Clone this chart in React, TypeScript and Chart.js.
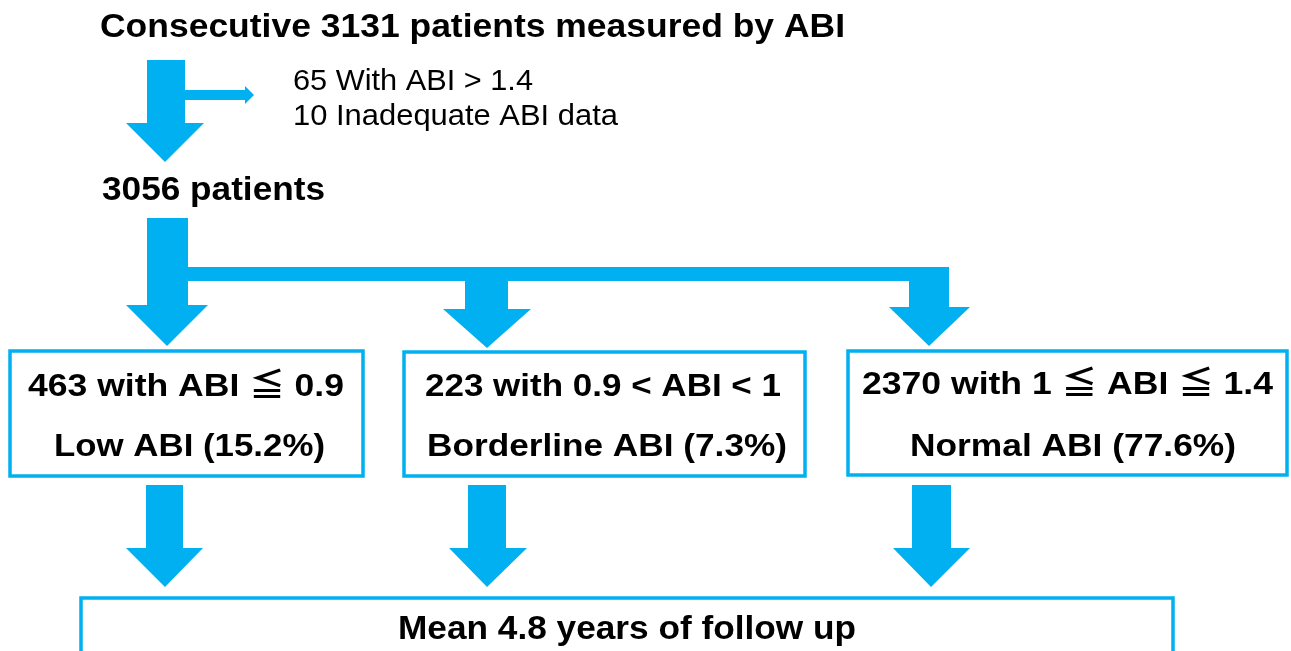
import React, { useEffect, useRef } from "react";
import { Chart, registerables } from "chart.js";

Chart.register(...registerables);

// ---- Data ----
const totalPatients = 3131;
const excludedCounts = [65, 10];
const excludedLabels = ["With ABI > 1.4", "Inadequate ABI data"];
const analyzedPatients = 3056;
const groupCounts = [463, 223, 2370];
const groupCriteria = ["with ABI ≦ 0.9", "with 0.9 < ABI < 1", "with 1 ≦ ABI ≦ 1.4"];
const groupNames = ["Low ABI", "Borderline ABI", "Normal ABI"];
const groupPercents = ["15.2", "7.3", "77.6"];
const followUpYears = 4.8;

// ---- Layout (coordinates in the 1291 x 651 drawing space) ----
const W = 1291;
const H = 651;
const BLUE = "#00B0F0";

// group boxes: [left, top, right, bottom]
const groupBoxes = [
  [10, 351, 363, 476],
  [404, 352, 805, 476],
  [848, 351, 1287, 475],
];
const followBox = [81, 598, 1173, 680];

// down arrows: [shaftL, shaftR, top, headY, headL, headR, tipX, tipY]
const downArrows = [
  [147, 185, 60, 123, 126, 204, 165, 162],
  [147, 188, 218, 305, 126, 208, 167, 346],
  [465, 508, 274, 309, 443, 531, 487, 348],
  [909, 949, 274, 307, 889, 970, 929, 346],
  [146, 183, 485, 548, 126, 203, 165, 587],
  [468, 506, 485, 548, 449, 527, 487, 587],
  [912, 951, 485, 548, 893, 970, 931, 587],
];
// horizontal connector bar: [x1, y1, x2, y2]
const branchBar = [170, 267, 949, 281];
// side arrow: [x1, yTop, xHead, yBottom, headTop, headBottom, tipX]
const sideArrow = [185, 90, 245, 100, 86, 104, 254];

const FONT = '"Liberation Sans", Arial, "Noto Sans CJK JP", sans-serif';

type Label = { text: string; cx: number; base: number; width: number; size: number; bold: boolean };

const labels: Label[] = [
  { text: `Consecutive ${totalPatients} patients measured by ABI`, cx: 472.5, base: 37, width: 745, size: 33, bold: true },
  { text: `${excludedCounts[0]} With ${excludedLabels[0].replace("With ", "")}`, cx: 413, base: 90, width: 240, size: 29, bold: false },
  { text: `${excludedCounts[1]} ${excludedLabels[1]}`, cx: 455.5, base: 125, width: 325, size: 29, bold: false },
  { text: `${analyzedPatients} patients`, cx: 213.5, base: 200, width: 223, size: 33, bold: true },
  { text: `${groupCounts[0]} ${groupCriteria[0]}`, cx: 186, base: 396, width: 316, size: 32, bold: true },
  { text: `${groupNames[0]} (${groupPercents[0]}%)`, cx: 189.5, base: 456, width: 271, size: 32, bold: true },
  { text: `${groupCounts[1]} ${groupCriteria[1]}`, cx: 603, base: 396, width: 356, size: 32, bold: true },
  { text: `${groupNames[1]} (${groupPercents[1]}%)`, cx: 607, base: 456, width: 360, size: 32, bold: true },
  { text: `${groupCounts[2]} ${groupCriteria[2]}`, cx: 1067.5, base: 394, width: 411, size: 32, bold: true },
  { text: `${groupNames[2]} (${groupPercents[2]}%)`, cx: 1073, base: 456, width: 326, size: 32, bold: true },
  { text: `Mean ${followUpYears} years of follow up`, cx: 627, base: 639, width: 458, size: 33, bold: true },
];

const flowPlugin = {
  id: "flow",
  afterDraw(chart: any) {
    const ctx: CanvasRenderingContext2D = chart.ctx;
    const xs = chart.scales.x;
    const ys = chart.scales.y;
    const X = (v: number) => xs.getPixelForValue(v);
    const Y = (v: number) => ys.getPixelForValue(v);

    ctx.save();
    ctx.fillStyle = BLUE;

    const poly = (pts: number[][]) => {
      ctx.beginPath();
      pts.forEach((p, i) => (i ? ctx.lineTo(X(p[0]), Y(p[1])) : ctx.moveTo(X(p[0]), Y(p[1]))));
      ctx.closePath();
      ctx.fill();
    };
    const rect = (x1: number, y1: number, x2: number, y2: number) =>
      poly([[x1, y1], [x2, y1], [x2, y2], [x1, y2]]);

    // connector bar
    rect(branchBar[0], branchBar[1], branchBar[2], branchBar[3]);

    // side arrow
    const [sx1, sy1, sxh, sy2, sht, shb, stip] = sideArrow;
    rect(sx1 - 2, sy1, sxh, sy2);
    poly([[sxh, sht], [stip, (sht + shb) / 2], [sxh, shb]]);

    // down arrows
    downArrows.forEach(([sl, sr, top, hy, hl, hr, tx, ty]) => {
      poly([[sl, top], [sr, top], [sr, hy], [hr, hy], [tx, ty], [hl, hy], [sl, hy]]);
    });

    // boxes
    ctx.strokeStyle = BLUE;
    ctx.lineWidth = 3.5;
    [...groupBoxes, followBox].forEach(([l, t, r, b]) => {
      ctx.strokeRect(X(l), Y(t), X(r) - X(l), Y(b) - Y(t));
    });

    // text
    ctx.fillStyle = "#000000";
    ctx.textAlign = "center";
    ctx.textBaseline = "alphabetic";
    labels.forEach((lb) => {
      ctx.font = `${lb.bold ? "bold " : ""}${lb.size}px ${FONT}`;
      const w = ctx.measureText(lb.text).width;
      const targetW = X(lb.cx + lb.width / 2) - X(lb.cx - lb.width / 2);
      ctx.save();
      ctx.translate(X(lb.cx), Y(lb.base));
      ctx.scale(targetW / w, 1);
      ctx.fillText(lb.text, 0, 0);
      ctx.restore();
    });
    ctx.restore();
  },
};

export default function App() {
  const ref = useRef<HTMLCanvasElement | null>(null);
  useEffect(() => {
    document.body.style.margin = "0";
    document.body.style.background = "#ffffff";
    const canvas = ref.current!;
    const chart = new Chart(canvas, {
      type: "scatter",
      data: { datasets: [{ data: [], pointRadius: 0 }] },
      options: {
        animation: false,
        responsive: false,
        maintainAspectRatio: false,
        layout: { padding: 0 },
        plugins: { legend: { display: false }, tooltip: { enabled: false } },
        scales: {
          x: { type: "linear", min: 0, max: W, display: false },
          y: { type: "linear", min: 0, max: H, reverse: true, display: false },
        },
      },
      plugins: [flowPlugin],
    });
    return () => chart.destroy();
  }, []);
  return (
    <div style={{ width: W, height: H, background: "#fff" }}>
      <canvas ref={ref} width={W} height={H} style={{ display: "block", width: W, height: H }} />
    </div>
  );
}
